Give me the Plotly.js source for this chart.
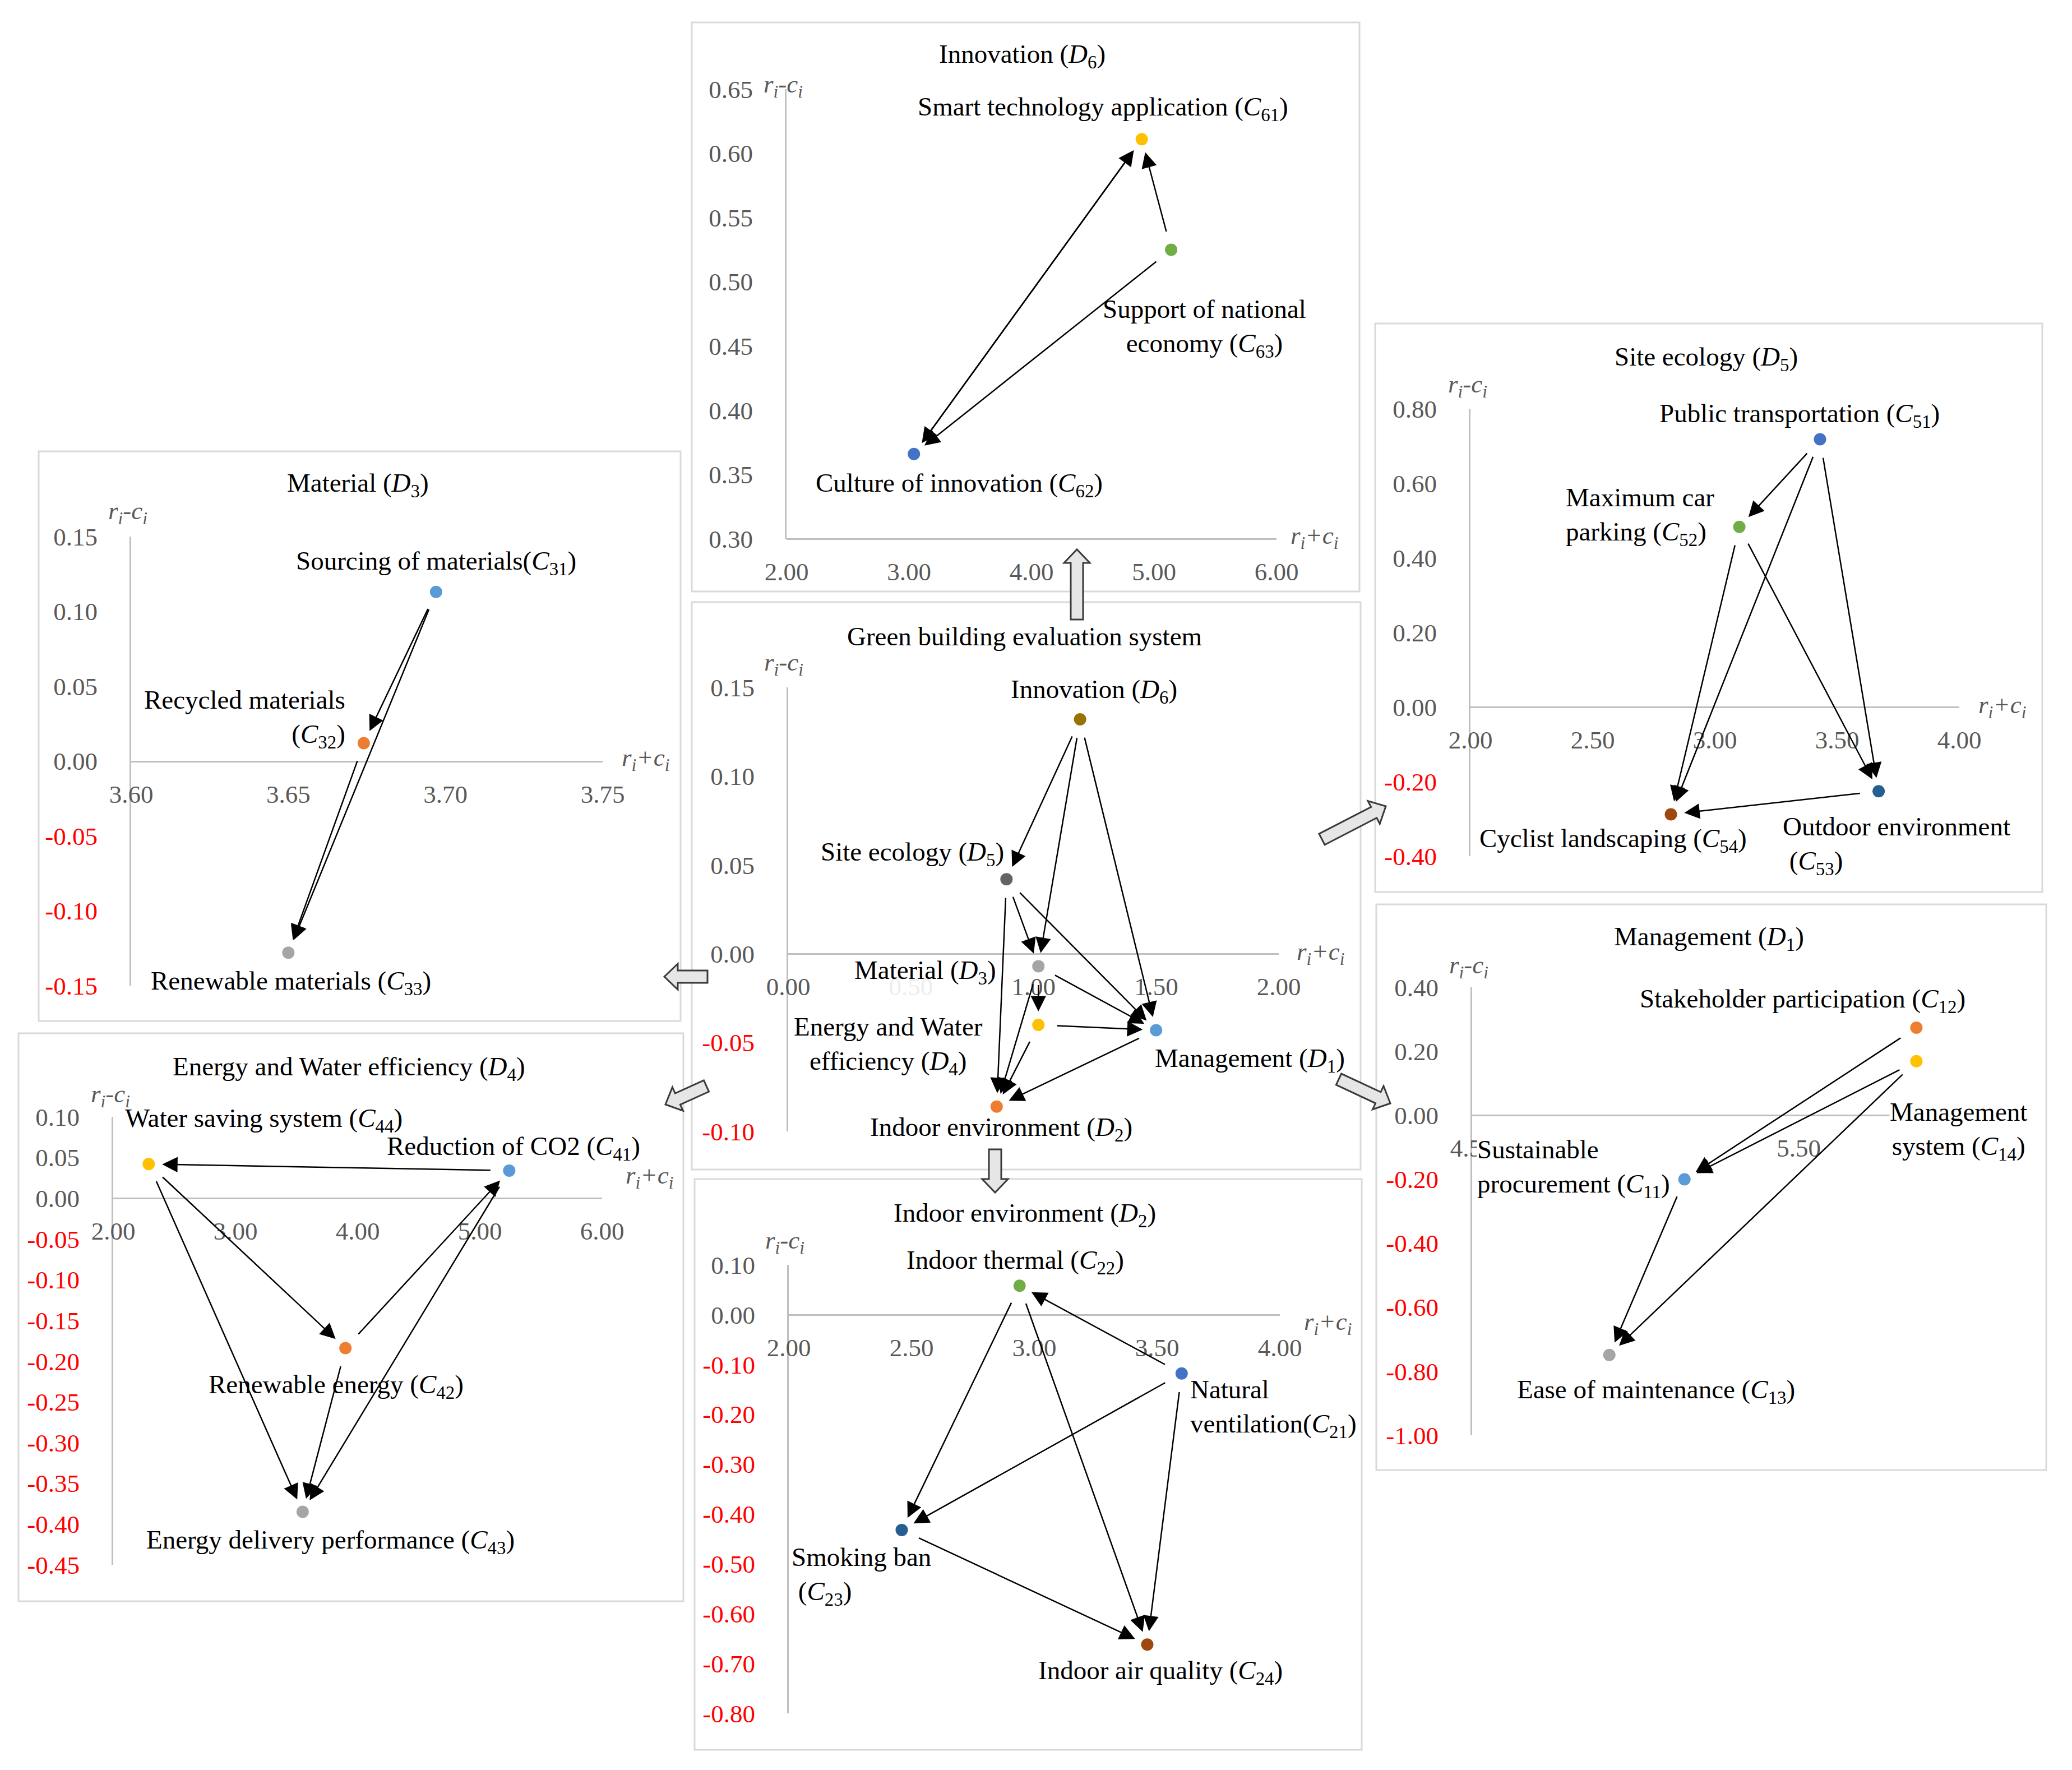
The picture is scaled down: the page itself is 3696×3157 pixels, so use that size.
<!DOCTYPE html>
<html><head><meta charset="utf-8">
<script src="https://cdn.plot.ly/plotly-3.0.1.min.js"></script>
<style>html,body{margin:0;padding:0;background:#fff}#chart{width:3696px;height:3157px}</style>
</head><body><div id="chart"></div>
<script>
// ================= DATA =================
// Innovation (D6)
const innovNames = ['Smart technology application (<i>C</i><sub>61</sub>)', 'Culture of innovation (<i>C</i><sub>62</sub>)', 'Support of national<br>economy (<i>C</i><sub>63</sub>)'];
const innovX = [4.90, 3.04, 5.14];
const innovY = [0.611, 0.366, 0.525];
const innovLinks = [[1,0],[0,1],[2,0],[2,1]];
const innovXTicks = [2, 3, 4, 5, 6];
const innovYTicks = [0.30, 0.35, 0.40, 0.45, 0.50, 0.55, 0.60, 0.65];

// Site ecology (D5)
const siteNames = ['Public transportation (<i>C</i><sub>51</sub>)', 'Maximum car<br>parking (<i>C</i><sub>52</sub>)', 'Outdoor environment<br> (<i>C</i><sub>53</sub>)', 'Cyclist landscaping (<i>C</i><sub>54</sub>)'];
const siteX = [3.43, 3.10, 3.67, 2.82];
const siteY = [0.718, 0.483, -0.226, -0.288];
const siteLinks = [[0,1],[0,3],[0,2],[1,3],[1,2],[2,3]];
const siteXTicks = [2.0, 2.5, 3.0, 3.5, 4.0];
const siteYTicks = [-0.40, -0.20, 0.00, 0.20, 0.40, 0.60, 0.80];

// Material (D3)
const matNames = ['Sourcing of materials(<i>C</i><sub>31</sub>)', 'Recycled materials<br>(<i>C</i><sub>32</sub>)', 'Renewable materials (<i>C</i><sub>33</sub>)'];
const matX = [3.697, 3.674, 3.650];
const matY = [0.113, 0.012, -0.128];
const matLinks = [[0,1],[0,2],[1,2]];
const matXTicks = [3.60, 3.65, 3.70, 3.75];
const matYTicks = [-0.15, -0.10, -0.05, 0.00, 0.05, 0.10, 0.15];

// Green building evaluation system (dimensions D1..D6)
const dimNames = ['Management (<i>D</i><sub>1</sub>)', 'Indoor environment (<i>D</i><sub>2</sub>)', 'Material (<i>D</i><sub>3</sub>)', 'Energy and Water<br>efficiency (<i>D</i><sub>4</sub>)', 'Site ecology (<i>D</i><sub>5</sub>)', 'Innovation (<i>D</i><sub>6</sub>)'];
const dimX = [1.50, 0.85, 1.02, 1.02, 0.89, 1.19];
const dimY = [-0.043, -0.086, -0.007, -0.040, 0.042, 0.132];
const dimLinks = [[5,4],[5,2],[5,0],[4,2],[4,0],[4,1],[2,3],[2,0],[2,1],[3,0],[3,1],[0,1]];
const dimXTicks = [0.0, 0.5, 1.0, 1.5, 2.0];
const dimYTicks = [-0.10, -0.05, 0.00, 0.05, 0.10, 0.15];

// Management (D1)
const mgmtNames = ['Sustainable<br>procurement (<i>C</i><sub>11</sub>)', 'Stakeholder participation (<i>C</i><sub>12</sub>)', 'Ease of maintenance (<i>C</i><sub>13</sub>)', 'Management<br>system (<i>C</i><sub>14</sub>)'];
const mgmtX = [5.15, 5.86, 4.92, 5.86];
const mgmtY = [-0.20, 0.274, -0.749, 0.169];
const mgmtLinks = [[1,3],[1,0],[3,0],[3,2],[0,2]];
const mgmtXTicks = [4.5, 5.0, 5.5, 6.0];
const mgmtYTicks = [-1.00, -0.80, -0.60, -0.40, -0.20, 0.00, 0.20, 0.40];

// Energy and Water efficiency (D4)
const enerNames = ['Reduction of CO2 (<i>C</i><sub>41</sub>)', 'Renewable energy (<i>C</i><sub>42</sub>)', 'Energy delivery performance (<i>C</i><sub>43</sub>)', 'Water saving system (<i>C</i><sub>44</sub>)'];
const enerX = [5.24, 3.90, 3.55, 2.29];
const enerY = [0.034, -0.184, -0.385, 0.042];
const enerLinks = [[0,3],[3,1],[3,2],[1,0],[1,2],[0,2]];
const enerXTicks = [2, 3, 4, 5, 6];
const enerYTicks = [-0.45, -0.40, -0.35, -0.30, -0.25, -0.20, -0.15, -0.10, -0.05, 0.00, 0.05, 0.10];

// Indoor environment (D2)
const indNames = ['Natural<br>ventilation(<i>C</i><sub>21</sub>)', 'Indoor thermal (<i>C</i><sub>22</sub>)', 'Smoking ban<br> (<i>C</i><sub>23</sub>)', 'Indoor air quality (<i>C</i><sub>24</sub>)'];
const indX = [3.60, 2.94, 2.46, 3.46];
const indY = [-0.118, 0.058, -0.432, -0.662];
const indLinks = [[0,1],[1,2],[1,3],[0,2],[0,3],[2,3]];
const indXTicks = [2.0, 2.5, 3.0, 3.5, 4.0];
const indYTicks = [-0.80, -0.70, -0.60, -0.50, -0.40, -0.30, -0.20, -0.10, 0.00, 0.10];

// ================= STYLE / LAYOUT =================
const W = 3696, H = 3157;
const FONT = 'Liberation Serif, Times New Roman, serif';
const TXT = 47, TICK = 45;
const BLUE='#4472C4', LBLUE='#5B9BD5', ORANGE='#ED7D31', GRAY='#A5A5A5', GOLD='#FFC000', GREEN='#70AD47', DBLUE='#255E91', BROWN='#9E480E', DGOLD='#997300', DGRAY='#636363';

const panels = [
  {names: innovNames, xs: innovX, ys: innovY, links: innovLinks, xt: innovXTicks, yt: innovYTicks,
   colors: [GOLD, BLUE, GREEN],
   box: [1234, 40, 2425, 1055], plot: [1403, 159, 2277, 961],
   title: 'Innovation (<i>D</i><sub>6</sub>)', titleAt: [1823, 100], rc: [1397, 153], rpc: [2344, 958],
   lab: [[-69, -55, 'center'], [81, 55, 'center'], [59, 140, 'center']]},
  {names: siteNames, xs: siteX, ys: siteY, links: siteLinks, xt: siteXTicks, yt: siteYTicks,
   colors: [BLUE, GREEN, DBLUE, BROWN],
   box: [2453, 577, 3643, 1591], plot: [2623, 729, 3495, 1527],
   title: 'Site ecology (<i>D</i><sub>5</sub>)', titleAt: [3043, 639], rc: [2618, 688], rpc: [3571, 1260],
   lab: [[-36, -43, 'center'], [-44, -19, 'right', 'left'], [-172, 97, 'left', 'left'], [-103, 46, 'center']]},
  {names: matNames, xs: matX, ys: matY, links: matLinks, xt: matXTicks, yt: matYTicks,
   colors: [LBLUE, ORANGE, GRAY],
   box: [69, 805, 1214, 1821], plot: [234, 957, 1075, 1758],
   title: 'Material (<i>D</i><sub>3</sub>)', titleAt: [638, 865], rc: [228, 914], rpc: [1151, 1354],
   lab: [[0, -52, 'center'], [-32, -43, 'right', 'right'], [5, 53, 'center']]},
  {names: dimNames, xs: dimX, ys: dimY, links: dimLinks, xt: dimXTicks, yt: dimYTicks,
   colors: [LBLUE, ORANGE, GRAY, GOLD, DGRAY, DGOLD], faintX: [0.5],
   box: [1234, 1074, 2427, 2086], plot: [1406, 1226, 2281, 2018],
   title: 'Green building evaluation system', titleAt: [1827, 1135], rc: [1398, 1184], rpc: [2355, 1700],
   lab: [[167, 53, 'center'], [8, 40, 'center'], [-202, 10, 'center'], [-268, 37, 'center'], [-168, -46, 'center'], [25, -51, 'center']]},
  {names: mgmtNames, xs: mgmtX, ys: mgmtY, links: mgmtLinks, xt: mgmtXTicks, yt: mgmtYTicks,
   colors: [LBLUE, ORANGE, GRAY, GOLD], faintX: [5.0],
   box: [2455, 1613, 3650, 2622], plot: [2626, 1761, 3500, 2560],
   title: 'Management (<i>D</i><sub>1</sub>)', titleAt: [3048, 1673], rc: [2620, 1724], rpc: null,
   lab: [[-25, -19, 'right', 'left', true], [-203, -48, 'center'], [83, 65, 'center'], [75, 124, 'center', 'center', true]]},
  {names: enerNames, xs: enerX, ys: enerY, links: enerLinks, xt: enerXTicks, yt: enerYTicks,
   colors: [LBLUE, ORANGE, GRAY, GOLD],
   box: [33, 1843, 1219, 2856], plot: [202, 1992, 1074, 2791],
   title: 'Energy and Water efficiency (<i>D</i><sub>4</sub>)', titleAt: [622, 1905], rc: [197, 1954], rpc: [1158, 2099],
   lab: [[8, -40, 'center'], [-17, 68, 'center'], [50, 53, 'center'], [205, -79, 'center']]},
  {names: indNames, xs: indX, ys: indY, links: indLinks, xt: indXTicks, yt: indYTicks,
   colors: [BLUE, GREEN, DBLUE, BROWN],
   box: [1239, 2103, 2429, 3121], plot: [1407, 2256, 2283, 3056],
   title: 'Indoor environment (<i>D</i><sub>2</sub>)', titleAt: [1828, 2166], rc: [1400, 2215], rpc: [2368, 2360],
   lab: [[14, 62, 'left', 'left'], [-8, -43, 'center'], [-197, 82, 'left', 'left'], [24, 49, 'center']]}
];

// hollow block arrows linking the central chart to each panel (tail px, tip px)
const blockArrows = [
  [[1921, 1105], [1921, 980]],
  [[2358, 1497], [2472, 1438]],
  [[1262, 1742], [1185, 1742]],
  [[1260, 1937], [1187, 1970]],
  [[2388, 1925], [2480, 1968]],
  [[1775, 2050], [1775, 2127]]
];

// ================= BUILD =================
const px = p => p / W, py = p => 1 - p / H;
function tickText(vals, faint) {
  return vals.map(v => {
    let c = v < 0 ? '#FF0000' : '#595959';
    if (faint && faint.some(f => Math.abs(f - v) < 1e-9)) c = '#EDEDED';
    return '<span style="color:' + c + '">' + v.toFixed(2) + '</span>';
  });
}

const data = [], annotations = [], shapes = [];
const layout = {
  width: W, height: H, margin: {l: 0, r: 0, t: 0, b: 0},
  paper_bgcolor: '#fff', plot_bgcolor: 'rgba(0,0,0,0)', showlegend: false,
  font: {family: FONT, size: TXT, color: '#000'}
};

panels.forEach((p, i) => {
  const k = i === 0 ? '' : String(i + 1);
  const xa = 'x' + k, ya = 'y' + k;
  const xmin = Math.min(...p.xt), xmax = Math.max(...p.xt);
  const ymin = Math.min(...p.yt), ymax = Math.max(...p.yt);
  const yd = [py(p.plot[3]), py(p.plot[1])];
  const cross = Math.min(Math.max(0, ymin), ymax);
  const pos = yd[0] + (cross - ymin) / (ymax - ymin) * (yd[1] - yd[0]);
  layout['xaxis' + k] = {
    domain: [px(p.plot[0]), px(p.plot[2])], range: [xmin, xmax], anchor: 'free', position: pos,
    showline: true, linecolor: '#BFBFBF', linewidth: 3, showgrid: false, zeroline: false, ticks: '',
    tickmode: 'array', tickvals: p.xt, ticktext: tickText(p.xt, p.faintX), ticklabelstandoff: 18,
    tickfont: {family: FONT, size: TICK, color: '#595959'}, fixedrange: true, automargin: false
  };
  layout['yaxis' + k] = {
    domain: yd, range: [ymin, ymax], anchor: xa,
    showline: true, linecolor: '#BFBFBF', linewidth: 3, showgrid: false, zeroline: false, ticks: '',
    tickmode: 'array', tickvals: p.yt, ticktext: tickText(p.yt), ticklabelstandoff: 48,
    tickfont: {family: FONT, size: TICK, color: '#595959'}, fixedrange: true, automargin: false
  };
  shapes.push({type: 'rect', xref: 'paper', yref: 'paper', x0: px(p.box[0]), x1: px(p.box[2]), y0: py(p.box[3]), y1: py(p.box[1]),
    line: {color: '#D9D9D9', width: 3}, fillcolor: 'rgba(0,0,0,0)', layer: 'below'});
  data.push({type: 'scatter', mode: 'markers', x: p.xs, y: p.ys, xaxis: xa, yaxis: ya,
    marker: {size: 22, color: p.colors}, hoverinfo: 'skip', cliponaxis: false});
  annotations.push({xref: 'paper', yref: 'paper', x: px(p.titleAt[0]), y: py(p.titleAt[1]), text: p.title,
    showarrow: false, xanchor: 'center', yanchor: 'middle', font: {family: FONT, size: TXT, color: '#000'}});
  annotations.push({xref: 'paper', yref: 'paper', x: px(p.rc[0]), y: py(p.rc[1]), text: '<i>r<sub>i</sub>-c<sub>i</sub></i>',
    showarrow: false, xanchor: 'center', yanchor: 'middle', font: {family: FONT, size: TICK, color: '#595959'}});
  if (p.rpc) annotations.push({xref: 'paper', yref: 'paper', x: px(p.rpc[0]), y: py(p.rpc[1]), text: '<i>r<sub>i</sub>+c<sub>i</sub></i>',
    showarrow: false, xanchor: 'center', yanchor: 'middle', font: {family: FONT, size: TICK, color: '#595959'}});
  p.names.forEach((n, j) => {
    const L = p.lab[j];
    annotations.push({xref: xa, yref: ya, x: p.xs[j], y: p.ys[j], text: n, showarrow: false,
      xshift: L[0], yshift: -L[1], xanchor: L[2], yanchor: 'middle', align: L[3] || 'center',
      bgcolor: L[4] ? '#FFFFFF' : 'rgba(0,0,0,0)', borderpad: 0,
      font: {family: FONT, size: TXT, color: '#000'}});
  });
});

// influence arrows (drawn on top)
panels.forEach((p, i) => {
  const k = i === 0 ? '' : String(i + 1);
  const xa = 'x' + k, ya = 'y' + k;
  p.links.forEach(([s, t]) => {
    annotations.push({xref: xa, yref: ya, axref: xa, ayref: ya, x: p.xs[t], y: p.ys[t], ax: p.xs[s], ay: p.ys[s],
      text: '', showarrow: true, arrowhead: 2, arrowsize: 2.2, arrowwidth: 2.5, arrowcolor: '#000',
      standoff: 24, startstandoff: 32});
  });
});

// hollow block arrows
blockArrows.forEach(([t, h]) => {
  const sw = 22, hw = 46, hl = 24;
  const dx = h[0] - t[0], dy = h[1] - t[1], L = Math.hypot(dx, dy);
  const ux = dx / L, uy = dy / L, nx = -uy, ny = ux;
  const kx = h[0] - ux * hl, ky = h[1] - uy * hl;
  const pts = [[t[0] + nx * sw / 2, t[1] + ny * sw / 2], [kx + nx * sw / 2, ky + ny * sw / 2], [kx + nx * hw / 2, ky + ny * hw / 2],
    [h[0], h[1]], [kx - nx * hw / 2, ky - ny * hw / 2], [kx - nx * sw / 2, ky - ny * sw / 2], [t[0] - nx * sw / 2, t[1] - ny * sw / 2]];
  const path = 'M' + pts.map(q => px(q[0]).toFixed(5) + ',' + py(q[1]).toFixed(5)).join(' L') + ' Z';
  shapes.push({type: 'path', xref: 'paper', yref: 'paper', path: path, fillcolor: '#E7E6E6', line: {color: '#3A3A3A', width: 3}, layer: 'above'});
});

layout.annotations = annotations;
layout.shapes = shapes;
Plotly.newPlot('chart', data, layout, {staticPlot: true, displayModeBar: false});
</script>
</body></html>
